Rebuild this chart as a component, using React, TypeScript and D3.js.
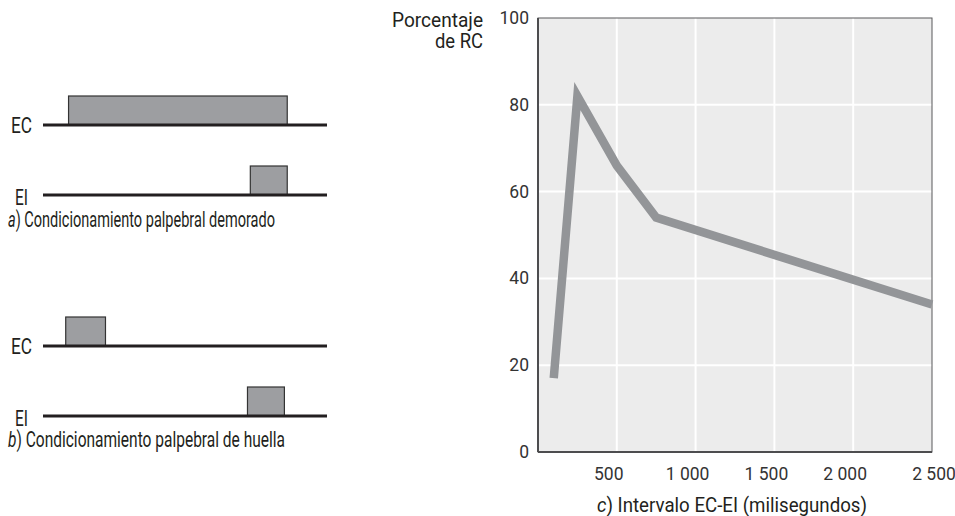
import React from "react";
import * as d3 from "d3";

const intervals = [100, 250, 500, 750, 2500];
const crPercent = [17, 82, 66, 54, 34];
const xTicks = [500, 1000, 1500, 2000, 2500];
const xTickLabels = ["500", "1 000", "1 500", "2 000", "2 500"];
const yTicks = [0, 20, 40, 60, 80, 100];

// timing diagrams (arbitrary time units 0..100 along each baseline)
const panelA = { cs: [9, 86], us: [73, 86] };
const panelB = { cs: [8, 22], us: [72, 85] };

const W = 955;
const H = 516;
const FONT = "Roboto, 'Liberation Sans', sans-serif";

export default function App() {
  const m = { left: 538, right: 932, top: 18, bottom: 452 };
  const x = d3.scaleLinear().domain([0, 2500]).range([m.left, m.right]);
  const y = d3.scaleLinear().domain([0, 100]).range([m.bottom, m.top]);
  const line = d3
    .line<number>()
    .x((_, i) => x(intervals[i]))
    .y((d) => y(d));

  const t = d3.scaleLinear().domain([0, 100]).range([43, 327]);

  const diagram = (
    ecY: number,
    eiY: number,
    p: { cs: number[]; us: number[] },
    capY: number,
    capLen: number,
    letter: string,
    rest: string
  ) => (
    <g>
      <rect x={t(p.cs[0])} y={ecY - 29} width={t(p.cs[1]) - t(p.cs[0])} height={29} fill="#9d9ea1" stroke="#333" strokeWidth={1.2} />
      <rect x={t(p.us[0])} y={eiY - 29} width={t(p.us[1]) - t(p.us[0])} height={29} fill="#9d9ea1" stroke="#333" strokeWidth={1.2} />
      <line x1={t(0)} x2={t(100)} y1={ecY} y2={ecY} stroke="#231f20" strokeWidth={3} />
      <line x1={t(0)} x2={t(100)} y1={eiY} y2={eiY} stroke="#231f20" strokeWidth={3} />
      <text x={11} y={ecY + 8} fontSize={21.5} textLength={21} lengthAdjust="spacingAndGlyphs">EC</text>
      <text x={15} y={eiY + 10} fontSize={21.5} textLength={13} lengthAdjust="spacingAndGlyphs">EI</text>
      <text x={8} y={capY} fontSize={21.5} textLength={capLen} lengthAdjust="spacingAndGlyphs">
        <tspan fontStyle="italic">{letter}</tspan>
        {rest}
      </text>
    </g>
  );

  return (
    <svg width={W} height={H} style={{ position: "absolute", left: 0, top: 0, fontFamily: FONT }} fill="#231f20">
      <rect x={0} y={0} width={W} height={H} fill="#fff" />
      {diagram(125, 195, panelA, 227, 267, "a", ") Condicionamiento palpebral demorado")}
      {diagram(346, 416, panelB, 447, 277, "b", ") Condicionamiento palpebral de huella")}

      <rect x={m.left} y={m.top} width={m.right - m.left} height={m.bottom - m.top} fill="#ececec" />
      {yTicks.filter((v) => v > 0 && v < 100).map((v) => (
        <line key={"gy" + v} x1={m.left} x2={m.right} y1={y(v)} y2={y(v)} stroke="#fff" strokeWidth={2} />
      ))}
      {xTicks.filter((v) => v < 2500).map((v) => (
        <line key={"gx" + v} x1={x(v)} x2={x(v)} y1={m.top} y2={m.bottom} stroke="#fff" strokeWidth={2} />
      ))}
      <rect x={m.left} y={m.top} width={m.right - m.left} height={m.bottom - m.top} fill="none" stroke="#58595b" strokeWidth={1} />
      <line x1={m.left} x2={m.left} y1={m.top} y2={m.bottom} stroke="#4d4d4f" strokeWidth={2} />
      <line x1={m.left} x2={m.right} y1={m.bottom} y2={m.bottom} stroke="#4d4d4f" strokeWidth={2} />

      <path d={line(crPercent) || ""} fill="none" stroke="#939598" strokeWidth={8.5} strokeLinejoin="miter" strokeLinecap="butt" />

      {yTicks.map((v) => (
        <text key={"ty" + v} x={529} y={y(v) + 6} textAnchor="end" fontSize={17.5} fill="#333">
          {v}
        </text>
      ))}
      {xTicks.map((v, i) => (
        <text key={"tx" + v} x={x(v) + (v === 2500 ? 2 : -8)} y={480} textAnchor="middle" fontSize={17.5} fill="#333">
          {xTickLabels[i]}
        </text>
      ))}
      <text x={392} y={27} fontSize={20.5} textLength={91} lengthAdjust="spacingAndGlyphs">Porcentaje</text>
      <text x={435} y={48} fontSize={20.5} textLength={48} lengthAdjust="spacingAndGlyphs">de RC</text>
      <text x={597} y={512} fontSize={21} textLength={270} lengthAdjust="spacingAndGlyphs">
        <tspan fontStyle="italic">c</tspan>) Intervalo EC-EI (milisegundos)
      </text>
    </svg>
  );
}
